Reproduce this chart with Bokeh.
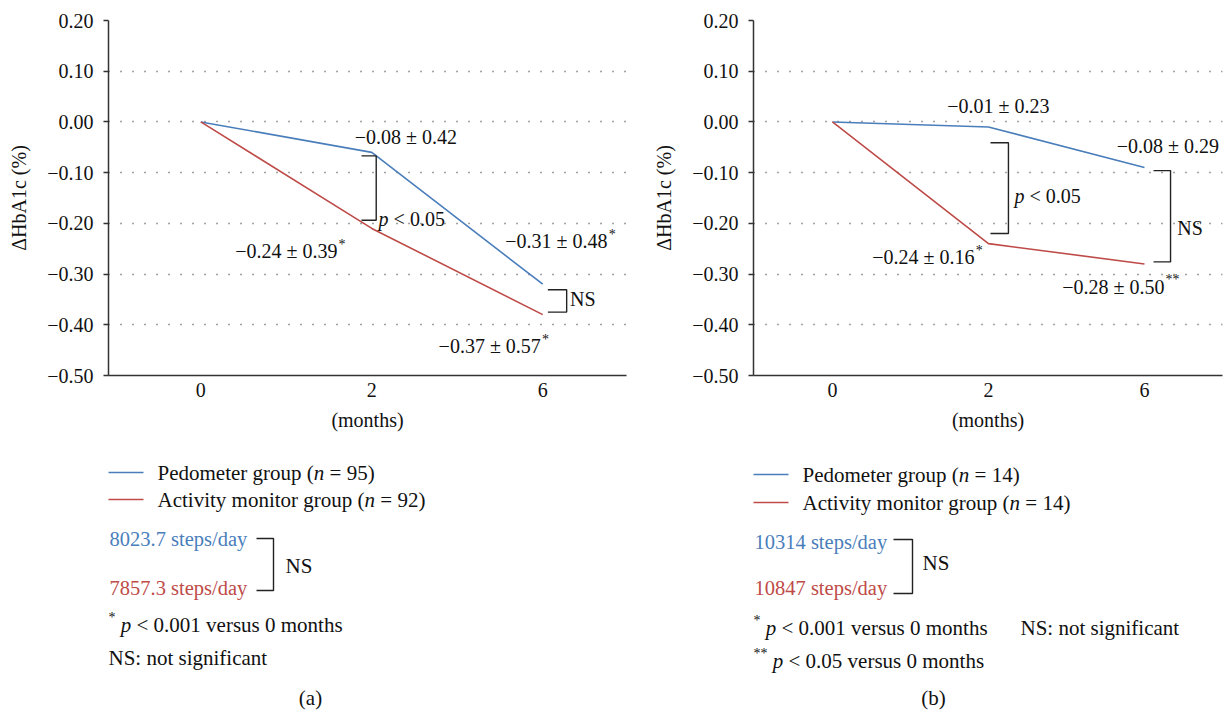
from bokeh.plotting import figure
from bokeh.layouts import column, row
from bokeh.models import Range1d, FixedTicker, CustomJSTickFormatter
from bokeh.core.properties import value
from bokeh.embed import file_html
from bokeh.resources import INLINE

# ---------------- data ----------------
months = ["0", "2", "6"]
y_ticks = [0.20, 0.10, 0.00, -0.10, -0.20, -0.30, -0.40, -0.50]

a_pedometer = [0.00, -0.06, -0.32]
a_activity = [0.00, -0.21, -0.38]
b_pedometer = [0.00, -0.01, -0.09]
b_activity = [0.00, -0.24, -0.28]

a_labels = ["−0.08 ± 0.42", "−0.24 ± 0.39", "−0.31 ± 0.48", "−0.37 ± 0.57"]
a_stars = ["", "*", "*", "*"]
b_labels = ["−0.01 ± 0.23", "−0.08 ± 0.29", "−0.24 ± 0.16", "−0.28 ± 0.50"]
b_stars = ["", "", "*", "**"]

groups = ["Pedometer group", "Activity monitor group"]
a_n = ["95", "92"]
b_n = ["14", "14"]
a_steps = ["8023.7 steps/day", "7857.3 steps/day"]
b_steps = ["10314 steps/day", "10847 steps/day"]

# ---------------- style ----------------
FONT = "Liberation Serif, serif"
BLUE = "#4A7EBB"
RED = "#BE4B48"
INK = "#111111"
AXIS = "#333333"
FS = 20
SUP = 14

TIMES = {" ": 250, "(": 333, ")": 333, "*": 500, ".": 250, "/": 278, ":": 278,
         "<": 564, "=": 564, "±": 564, "−": 564, "%": 833, "A": 722, "N": 722,
         "P": 556, "S": 556, "H": 722}
for ch in "0123456789":
    TIMES[ch] = 500
TIMES.update(dict(a=444, b=500, c=444, d=500, e=444, f=333, g=500, h=500, i=278, j=278,
                  k=500, l=278, m=778, n=500, o=500, p=500, q=500, r=333, s=389, t=278,
                  u=500, v=500, w=722, x=500, y=500, z=444))


def tw(s, size):
    return sum(TIMES.get(c, 500) for c in s) * size / 1000.0


def put(fig, x, y, t, size=FS, style="normal", align="left", color=INK):
    fig.text(x=[x], y=[y], text=[t], text_font=value(FONT), text_font_size=f"{size}px",
             text_font_style=style, text_align=align, text_baseline="middle",
             text_color=color)


def rich(fig, x, y, segs, kx, ky, color=INK, align="left", size=FS, sup=SUP):
    """segs: list of (text, kind) with kind in n / i / sup; kx, ky: data units per px."""
    widths = [tw(t, sup if k == "sup" else size) for t, k in segs]
    total = sum(widths)
    off = {"left": 0.0, "center": -total / 2.0, "right": -total}[align]
    for (t, k), w in zip(segs, widths):
        sz = sup if k == "sup" else size
        lead = len(t) - len(t.lstrip(" "))
        body = t.strip(" ")
        if body:
            xx = x + (off + tw(" " * lead, sz)) * kx
            if k == "sup":
                put(fig, xx, y + 7 * ky, body, size=sz, color=color)
            else:
                put(fig, xx, y, body, size=sz, style="italic" if k == "i" else "normal",
                    color=color)
        off += w


def star_label(fig, x, y, main, star, kx, ky):
    put(fig, x, y, main, align="center")
    if star:
        put(fig, x + (tw(main, FS) / 2.0 + 1) * kx, y + 7 * ky, star, size=SUP)


def bracket(fig, x0, x1, y0, y1):
    fig.line([x0, x1, x1, x0], [y0, y0, y1, y1], line_color="#222222", line_width=1.4)


TICK_JS = ('const v = Math.round(tick*100)/100; '
           'return (v < 0 ? "\\u2212" : "") + Math.abs(v).toFixed(2);')


def top_panel(width, bl, br, bt, bb, xr):
    p = figure(width=width, height=448, x_range=Range1d(*xr), y_range=Range1d(-0.5, 0.2),
               output_backend="svg", toolbar_location=None,
               min_border_left=bl, min_border_right=br, min_border_top=bt, min_border_bottom=bb,
               outline_line_color=None, background_fill_color="white", border_fill_color="white")
    p.xgrid.grid_line_color = None
    p.ygrid.ticker = FixedTicker(ticks=y_ticks)
    p.ygrid.grid_line_color = "#444444"
    p.ygrid.grid_line_dash = "1 11"
    p.ygrid.grid_line_width = 1.4

    p.yaxis.ticker = FixedTicker(ticks=y_ticks)
    p.yaxis.formatter = CustomJSTickFormatter(code=TICK_JS)
    p.yaxis.axis_label = "ΔHbA1c (%)"
    p.yaxis.major_tick_out = 5
    p.yaxis.major_tick_in = 0
    p.yaxis.major_label_standoff = 10
    p.yaxis.axis_label_standoff = 14

    p.xaxis.ticker = FixedTicker(ticks=list(range(len(months))))
    p.xaxis.major_label_overrides = {i: m for i, m in enumerate(months)}
    p.xaxis.axis_label = "(months)"
    p.xaxis.major_tick_out = 0
    p.xaxis.major_tick_in = 0
    p.xaxis.major_label_standoff = 7
    p.xaxis.axis_label_standoff = 9

    for ax in (p.xaxis, p.yaxis):
        ax.minor_tick_line_color = None
        ax.axis_line_color = AXIS
        ax.axis_line_width = 1.5
        ax.major_tick_line_color = AXIS
        ax.major_tick_line_width = 1.5
        ax.major_label_text_font = FONT
        ax.major_label_text_font_size = f"{FS}px"
        ax.major_label_text_color = INK
        ax.axis_label_text_font = FONT
        ax.axis_label_text_font_size = f"{FS}px"
        ax.axis_label_text_font_style = "normal"
        ax.axis_label_text_color = INK
    return p


xi = list(range(len(months)))

# ---------------- panel (a) ----------------
pa = top_panel(648, 108, 22, 17, 73, (-0.54, 2.49))
kxa, kya = 3.03 / 518.0, 0.7 / 358.0
pa.line(xi, a_pedometer, line_color=BLUE, line_width=1.6)
pa.line(xi, a_activity, line_color=RED, line_width=1.6)
a_pos = [(1.20, -0.030), (0.50, -0.255), (2.08, -0.235), (1.69, -0.442)]
for (x, y), t, s in zip(a_pos, a_labels, a_stars):
    star_label(pa, x, y, t, s, kxa, kya)
bracket(pa, 0.94, 1.026, -0.067, -0.194)
rich(pa, 1.04, -0.192, [("p", "i"), (" < 0.05", "n")], kxa, kya)
bracket(pa, 2.03, 2.14, -0.331, -0.375)
put(pa, 2.16, -0.349, "NS")

# ---------------- panel (b) ----------------
pb = top_panel(578, 105, 4, 20, 70, (-0.506, 2.50))
kxb, kyb = 3.006 / 469.0, 0.7 / 358.0
pb.line(xi, b_pedometer, line_color=BLUE, line_width=1.6)
pb.line(xi, b_activity, line_color=RED, line_width=1.6)
b_pos = [(1.064, 0.031), (2.15, -0.047), (0.583, -0.267), (1.80, -0.325)]
for (x, y), t, s in zip(b_pos, b_labels, b_stars):
    star_label(pb, x, y, t, s, kxb, kyb)
bracket(pb, 1.013, 1.128, -0.041, -0.220)
rich(pb, 1.167, -0.147, [("p", "i"), (" < 0.05", "n")], kxb, kyb)
bracket(pb, 2.058, 2.167, -0.096, -0.276)
put(pb, 2.21, -0.210, "NS")

# ---------------- legends / notes (pixel-like coordinates) ----------------
bot = figure(width=1226, height=262, x_range=Range1d(0, 1226), y_range=Range1d(710, 448),
             output_backend="svg", toolbar_location=None, min_border=0,
             x_axis_location=None, y_axis_location=None, outline_line_color=None,
             background_fill_color="white", border_fill_color="white")
bot.grid.grid_line_color = None
BS = 21      # legend / footnote text size
SS = 20.5    # steps text size


def notes(x0, ys_leg, n_vals, steps, ys_steps, br_x, br_y, ns_pos, foot, title, title_x):
    line_x = [x0, x0 + 35]
    for y, col, g, n in zip(ys_leg, [BLUE, RED], groups, n_vals):
        bot.line(line_x, [y, y], line_color=col, line_width=1.6)
        rich(bot, x0 + 49, y, [(g + " (", "n"), ("n", "i"), (" = " + n + ")", "n")], 1, -1,
             size=BS)
    for y, col, s in zip(ys_steps, [BLUE, RED], steps):
        put(bot, x0 + 1, y, s, size=SS, color=col)
    bracket(bot, br_x[0], br_x[1], br_y[0], br_y[1])
    put(bot, ns_pos[0], ns_pos[1], "NS", size=BS)
    for fx, fy, segs in foot:
        rich(bot, fx, fy, segs, 1, -1, size=BS)
    put(bot, title_x, 697, title, size=BS, align="center")


notes(108, [472, 499], a_n, a_steps, [538, 587], (256, 273), (538, 590), (285, 565),
      [(108, 624, [("*", "sup"), (" ", "n"), ("p", "i"), (" < 0.001 versus 0 months", "n")]),
       (108, 657, [("NS: not significant", "n")])], "(a)", 310)
notes(753, [474, 502], b_n, b_steps, [541, 587], (893, 912), (539, 593), (922, 562),
      [(753, 627, [("*", "sup"), (" ", "n"), ("p", "i"), (" < 0.001 versus 0 months", "n")]),
       (1020, 627, [("NS: not significant", "n")]),
       (753, 660, [("**", "sup"), (" ", "n"), ("p", "i"), (" < 0.05 versus 0 months", "n")])],
      "(b)", 933)

layout = column(row(pa, pb), bot)
open("out.html", "w").write(file_html(layout, INLINE))
